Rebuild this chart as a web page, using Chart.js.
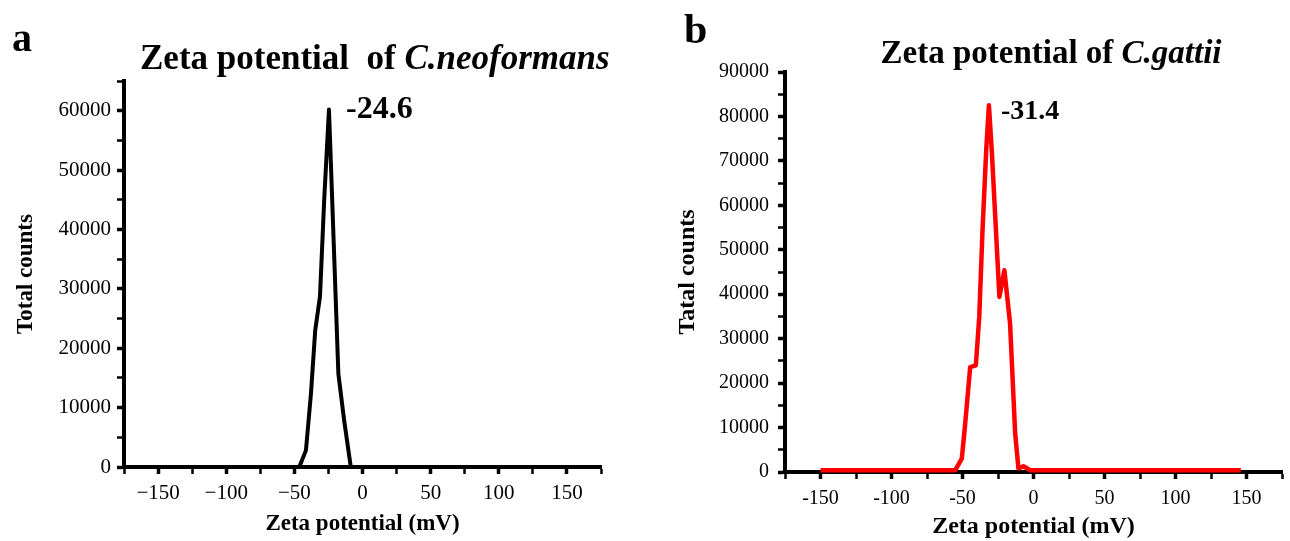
<!DOCTYPE html>
<html lang="en">

<head>
    <meta charset="UTF-8">
    <title>Zeta potential</title>
    <script src="https://cdn.jsdelivr.net/npm/chart.js@4.4.1/dist/chart.umd.min.js"></script>
    <style>
        body { margin: 0; background: #fff; width: 1290px; height: 541px; position: relative; overflow: hidden; }
        .box { position: absolute; top: 0; }
        .txt { position: absolute; font-family: "Liberation Serif", "Times New Roman", serif; font-weight: bold; line-height: 1; white-space: nowrap; color: #000; }
    </style>
</head>

<body>
    <div class="box" style="left:0"><canvas id="chartA" width="640" height="541"></canvas></div>
    <div class="box" style="left:640px"><canvas id="chartB" width="650" height="541"></canvas></div>
    <div class="txt" style="left:12px;top:18px;font-size:40px">a</div>
    <div class="txt" style="left:684px;top:8px;font-size:42px">b</div>
    <div class="txt" id="titleA" style="top:40px;font-size:35px">Zeta potential&nbsp; of <i>C.neoformans</i></div>
    <div class="txt" id="titleB" style="top:36px;font-size:33px">Zeta potential of <i>C.gattii</i></div>
    <script>

        // zeta potential (mV) vs total counts
        const neoX = [-150, -46.4, -41.5, -37.8, -34.7, -31.2, -28.1, -24.6, -17.7, -13.5, -8.6, 148];
        const neoY = [0, 0, 2800, 12400, 23000, 28700, 45000, 60200, 15700, 7900, 0, 0];
        const neoPeak = "-24.6";

        const gatX = [-150, -55.1, -50.5, -48.1, -44.6, -40.6, -38.2, -35.9, -33.3, -31.4, -29.4, -24.0, -20.5, -16.5, -12.9, -10.6, -7.1, -2.4, 146];
        const gatY = [400, 400, 3000, 10900, 23600, 24000, 34900, 54400, 72400, 82500, 72400, 39400, 45400, 33400, 8600, 800, 1300, 400, 400];
        const gatPeak = "-31.4";

        const serif = "'Liberation Serif', 'Times New Roman', serif";

        // centre the html titles over their plots
        function centre(id, cx) {
            const el = document.getElementById(id);
            el.style.left = (cx - el.offsetWidth / 2) + "px";
        }
        centre("titleA", 375);
        centre("titleB", 1051);

        // peak value written next to the top of the curve
        const peakLabel = {
            id: "peakLabel",
            afterDatasetsDraw(chart, args, opts) {
                const { ctx, scales: { x, y } } = chart;
                ctx.save();
                ctx.font = opts.font;
                ctx.fillStyle = "#000";
                ctx.textBaseline = "alphabetic";
                ctx.fillText(opts.text, x.getPixelForValue(opts.x) + opts.dx, y.getPixelForValue(opts.y) + opts.dy);
                ctx.restore();
            }
        };

        function points(xs, ys) {
            return xs.map((v, i) => ({ x: v, y: ys[i] }));
        }

        function makeChart(id, o) {
            const ctx = document.getElementById(id).getContext("2d");
            return new Chart(ctx, {
                type: "line",
                data: {
                    datasets: [{
                        data: points(o.xs, o.ys),
                        borderColor: o.color,
                        borderWidth: o.lineWidth,
                        borderJoinStyle: "round",
                        pointRadius: 0,
                        tension: 0,
                        clip: false
                    }]
                },
                options: {
                    responsive: false,
                    animation: false,
                    layout: { padding: o.padding },
                    plugins: {
                        legend: { display: false },
                        tooltip: { enabled: false },
                        peakLabel: o.peak
                    },
                    scales: {
                        x: {
                            type: "linear",
                            min: -175,
                            max: 175,
                            afterFit: s => { s.height = o.xHeight; },
                            afterBuildTicks: s => {
                                const t = [];
                                for (let v = -175; v <= 175; v += 25) t.push({ value: v });
                                s.ticks = t;
                            },
                            ticks: {
                                autoSkip: false,
                                maxRotation: 0,
                                padding: o.xPad,
                                color: "#000",
                                font: { family: serif, size: o.tickSize },
                                callback: v => (v % 50 === 0 ? (v < 0 ? o.minus + Math.abs(v) : String(v)) : "")
                            },
                            grid: {
                                drawOnChartArea: false,
                                tickLength: 7,
                                tickColor: "#000",
                                tickWidth: c => (c.tick && c.tick.value % 50 === 0 ? 3.5 : 2.5)
                            },
                            border: { color: "#000", width: 4 },
                            title: {
                                display: true,
                                text: "Zeta potential (mV)",
                                color: "#000",
                                font: { family: serif, size: o.titleSize, weight: "bold" },
                                padding: { top: 0, bottom: o.xTitlePad }
                            }
                        },
                        y: {
                            type: "linear",
                            min: 0,
                            max: o.yMax,
                            afterFit: s => { s.width = o.yWidth; },
                            afterBuildTicks: s => {
                                const t = [];
                                for (let v = 0; v <= o.yMax; v += 5000) t.push({ value: v });
                                s.ticks = t;
                            },
                            ticks: {
                                autoSkip: false,
                                padding: o.yPad,
                                color: "#000",
                                font: { family: serif, size: o.tickSize },
                                callback: v => (v % 10000 === 0 ? String(v) : "")
                            },
                            grid: {
                                drawOnChartArea: false,
                                tickLength: 7,
                                tickColor: "#000",
                                tickWidth: c => (c.tick && c.tick.value % 10000 === 0 ? 3.5 : 2.5)
                            },
                            border: { color: "#000", width: 4 },
                            title: {
                                display: true,
                                text: o.yTitle,
                                color: "#000",
                                font: { family: serif, size: o.titleSize, weight: "bold" },
                                padding: { top: o.yTitlePad, bottom: 0 }
                            }
                        }
                    }
                },
                plugins: [peakLabel]
            });
        }

        makeChart("chartA", {
            xs: neoX, ys: neoY, color: "#000", lineWidth: 4,
            yMax: 65000, yTitle: "Total counts", minus: "\u2212",
            padding: { left: 0, right: 39, top: 81, bottom: 0 },
            xHeight: 74, yWidth: 124, xPad: 7, yPad: 6,
            tickSize: 21, titleSize: 23, xTitlePad: 3, yTitlePad: 12,
            peak: { text: neoPeak, x: -24.6, y: 60200, dx: 17, dy: 8, font: "bold 32px " + serif }
        });

        makeChart("chartB", {
            xs: gatX, ys: gatY, color: "#ff0000", lineWidth: 4.5,
            yMax: 90000, yTitle: "Tatal counts", minus: "-",
            padding: { left: 0, right: 7, top: 72, bottom: 0 },
            xHeight: 69, yWidth: 145, xPad: 8, yPad: 9,
            tickSize: 20, titleSize: 24, xTitlePad: 0, yTitlePad: 33,
            peak: { text: gatPeak, x: -31.4, y: 82500, dx: 12, dy: 14, font: "bold 28px " + serif }
        });

    </script>
</body>

</html>
